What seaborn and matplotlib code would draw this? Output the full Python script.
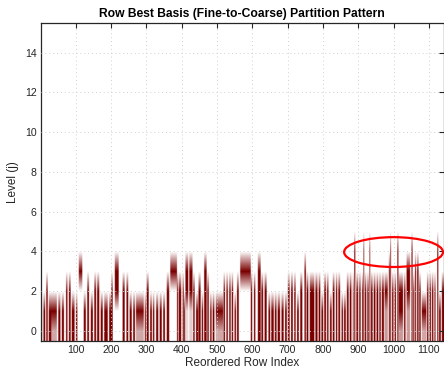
import numpy as np
import matplotlib
matplotlib.use("Agg")
import matplotlib.pyplot as plt
from matplotlib.colors import LinearSegmentedColormap
from matplotlib.patches import Ellipse
import seaborn as sns

# ---- data ----
n_rows = 1141          # reordered row indices 1..n_rows
n_levels = 16          # levels j = 0..15
# partition segments: columns [start, end), active levels lo..hi (value 1),
# levels below lo get the weaker "under" value
seg_start = [1, 8, 16, 23, 30, 50, 60, 72, 80, 88, 100, 108, 122, 132, 142, 152, 160, 170, 180, 194,
             200, 210, 232, 243, 252, 262, 270, 295, 300, 310, 318, 327, 337, 347, 357, 367,
             386, 391, 402, 406, 410, 421, 432, 440, 447, 456, 463, 472, 480, 487, 496, 518, 526, 534, 541, 549, 556, 565,
             595, 604, 615, 625, 634, 645, 653, 663, 671, 682, 692, 700, 709, 718, 726, 735, 747, 753, 762,
             778, 787, 795, 803, 811, 819, 827, 836, 843, 852, 859, 867, 875, 884, 888, 894, 902, 910, 914, 918, 925, 931, 935, 943, 951, 959,
             966, 974, 986, 990, 995, 1002, 1010, 1014, 1029, 1036, 1050, 1055, 1060, 1066, 1072, 1079, 1094, 1101, 1108, 1115, 1123, 1128, 1136]
seg_end = [4, 13, 20, 30, 46, 56, 66, 76, 85, 96, 104, 118, 128, 137, 148, 157, 166, 176, 190, 200,
           204, 221, 238, 248, 258, 267, 292, 298, 306, 315, 322, 333, 343, 352, 364, 386,
           389, 398, 405, 409, 418, 430, 436, 446, 453, 460, 470, 476, 484, 492, 517, 522, 530, 538, 545, 553, 561, 595,
           599, 608, 623, 630, 640, 650, 660, 668, 678, 688, 697, 705, 714, 722, 731, 741, 751, 758, 775,
           784, 792, 800, 808, 815, 824, 832, 840, 848, 856, 864, 872, 880, 886, 891, 899, 906, 913, 916, 922, 929, 933, 940, 948, 956, 963,
           972, 983, 989, 992, 999, 1006, 1013, 1026, 1033, 1046, 1053, 1058, 1063, 1070, 1076, 1092, 1098, 1105, 1112, 1118, 1126, 1133, 1142]
seg_lo = [0, 0, 0, 0, 1, 0, 0, 0, 0, 0, 0, 3, 0, 0, 0, 0, 0, 0, 0, 0,
          0, 2, 0, 0, 0, 0, 1, 0, 0, 0, 0, 0, 0, 0, 0, 3,
          0, 0, 0, 0, 2, 2, 0, 0, 0, 0, 0, 0, 0, 0, 1, 0, 0, 0, 0, 0, 0, 3,
          0, 0, 0, 0, 0, 0, 0, 0, 0, 0, 0, 0, 0, 0, 0, 0, 0, 0, 0,
          0, 0, 0, 0, 0, 0, 0, 0, 0, 0, 0, 0, 0, 0, 0, 0, 0, 0, 0, 0, 0, 0, 0, 0, 0, 0,
          0, 2, 0, 0, 0, 0, 0, 1, 0, 2, 0, 0, 0, 0, 0, 1, 0, 0, 0, 0, 0, 0, 0]
seg_hi = [1, 1, 2, 1, 1, 1, 1, 2, 2, 1, 1, 3, 1, 2, 1, 2, 2, 1, 1, 1,
          2, 3, 2, 2, 1, 1, 1, 1, 2, 1, 1, 1, 1, 1, 2, 3,
          2, 2, 2, 1, 3, 3, 2, 1, 2, 1, 3, 2, 1, 1, 1, 2, 2, 2, 2, 1, 2, 3,
          2, 2, 3, 2, 2, 1, 1, 1, 1, 1, 1, 2, 2, 2, 1, 2, 3, 2, 2,
          2, 2, 1, 2, 2, 1, 2, 2, 2, 1, 1, 2, 2, 2, 4, 2, 2, 2, 4, 2, 2, 4, 2, 2, 2, 2,
          2, 2, 3, 4, 2, 2, 4, 2, 2, 3, 4, 2, 3, 3, 2, 1, 2, 2, 2, 2, 4, 1, 2]
seg_under = [0, 0, 0, 0, 0.35, 0, 0, 0, 0, 0, 0, 0, 0, 0, 0, 0, 0, 0, 0, 0,
             0, 0, 0, 0, 0, 0, 0.35, 0, 0, 0, 0, 0, 0, 0, 0, 0,
             0, 0, 0, 0, 0.15, 0.2, 0, 0, 0, 0, 0, 0, 0, 0, 0.35, 0, 0, 0, 0, 0, 0, 0,
             0, 0, 0, 0, 0, 0, 0, 0, 0, 0, 0, 0, 0, 0, 0, 0, 0, 0, 0,
             0, 0, 0, 0, 0, 0, 0, 0, 0, 0, 0, 0, 0, 0, 0, 0, 0, 0, 0, 0, 0, 0, 0, 0, 0, 0,
             0, 0.4, 0, 0, 0, 0, 0, 0.4, 0, 0.4, 0, 0, 0, 0, 0, 0.35, 0, 0, 0, 0, 0, 0, 0]

x_ticks = [100, 200, 300, 400, 500, 600, 700, 800, 900, 1000, 1100]
y_ticks = [0, 2, 4, 6, 8, 10, 12, 14]
highlight_center = (1000, 3.97)
highlight_size = (280, 1.5)

# ---- build pattern matrix ----
pattern = np.zeros((n_levels, n_rows))
for s, e, lo, hi, u in zip(seg_start, seg_end, seg_lo, seg_hi, seg_under):
    c0, c1 = s - 1, min(e, n_rows + 1) - 1
    pattern[lo:hi + 1, c0:c1] = 1.0
    if lo > 0 and u > 0:
        pattern[:lo, c0:c1] = np.maximum(pattern[:lo, c0:c1], u)

sns.set_theme(style="white")
plt.rcParams["font.family"] = ["Liberation Sans", "DejaVu Sans"]

fig = plt.figure(figsize=(4.44, 3.69), dpi=100)
ax = fig.add_axes([40.7 / 444, 28 / 369, 402.8 / 444, 318.3 / 369])

cmap = LinearSegmentedColormap.from_list("wr", ["#ffffff", "#7a0000"])
ax.imshow(pattern, origin="lower", aspect="auto", cmap=cmap, vmin=0, vmax=1,
          extent=(0.5, n_rows + 0.5, -0.5, n_levels - 0.5), interpolation="bilinear")

ax.set_xlim(0.5, n_rows + 0.5)
ax.set_ylim(-0.5, n_levels - 0.5)
ax.set_xticks(x_ticks)
ax.set_yticks(y_ticks)
ax.grid(True, linestyle=(0, (1, 3)), color="#d0d0d0", linewidth=0.7)
ax.set_axisbelow(False)

ax.tick_params(direction="in", length=3.5, width=0.8, color="#262626", labelsize=7.6,
               labelcolor="#262626", top=True, right=True, pad=3)
for sp in ax.spines.values():
    sp.set_color("#262626")
    sp.set_linewidth(0.9)

ax.set_title("Row Best Basis (Fine-to-Coarse) Partition Pattern", fontsize=8.7,
             fontweight="bold", color="#000000", pad=4)
ax.set_xlabel("Reordered Row Index", fontsize=8.5, color="#262626", labelpad=1)
ax.set_ylabel("Level (j)", fontsize=8.5, color="#262626", labelpad=4)

ell = Ellipse(highlight_center, highlight_size[0], highlight_size[1], fill=False,
              edgecolor="#ff0000", linewidth=1.6, clip_on=False, zorder=5)
ax.add_patch(ell)

fig.savefig("out.png", dpi=100)
